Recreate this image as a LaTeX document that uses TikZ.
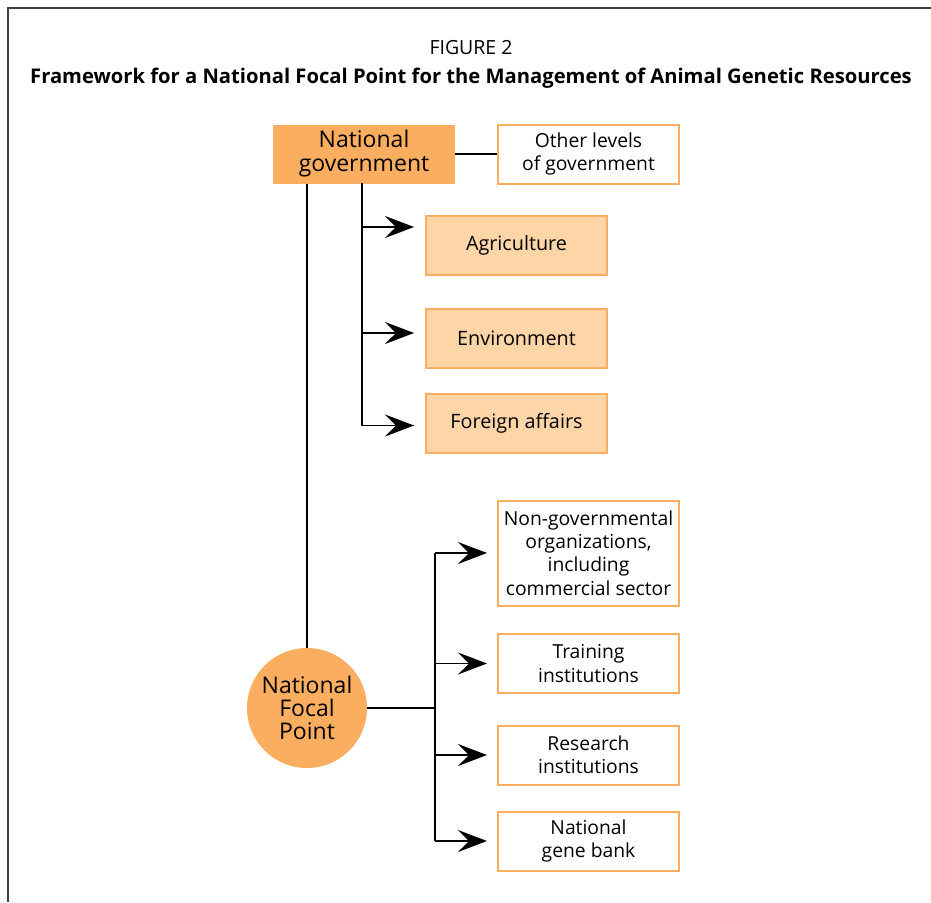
\documentclass[tikz,border=0pt]{standalone}
\usepackage{fontspec}
\setmainfont{Open Sans}
\usetikzlibrary{positioning,arrows.meta}

\definecolor{orangedark}{HTML}{FBAE5F}
\definecolor{orangelight}{HTML}{FDD5A6}

\begin{document}
\begin{tikzpicture}[
  x=1pt,y=-1pt,
  every node/.style={inner sep=0pt,align=center},
  govbox/.style={rectangle,fill=orangedark,minimum width=182pt,minimum height=59pt,font=\fontsize{23}{24}\selectfont},
  minbox/.style={rectangle,draw=orangedark,line width=2pt,fill=orangelight,minimum width=181pt,minimum height=59pt,font=\fontsize{19.8}{23}\selectfont},
  outbox/.style={rectangle,draw=orangedark,line width=2pt,fill=white,minimum width=181pt,minimum height=59pt,font=\fontsize{19.3}{23.3}\selectfont},
  focal/.style={circle,fill=orangedark,minimum size=120pt,font=\fontsize{23}{23}\selectfont},
  link/.style={line width=1.4pt},
  arrowlink/.style={line width=1.4pt,-{Stealth[length=29pt,width=22pt,inset=11pt]}},
]
\useasboundingbox (0,0) rectangle (931,902);
% frame
\draw[line width=2pt,black!75] (8,902) -- (8,8) -- (931,8);

% title
\node (fignum) at (471,48) {\fontsize{19.5}{20}\selectfont FIGURE 2};
\node (title) at (471,78) {\fontsize{20.2}{22}\selectfont\bfseries Framework for a National Focal Point for the Management of Animal Genetic Resources};

% government side
\node (natgov) [govbox] at (364,154) {National\\government};
\node (otherlev) [outbox] at (588.5,154) {Other levels\\of government};
\node (agri) [minbox] at (516.5,245) {Agriculture};
\node (envir) [minbox] at (516.5,338) {Environment};
\node (foreign) [minbox] at (516.5,423.5) {Foreign affairs};

% focal point side
\node (nfp) [focal] at (307,708) {National\\Focal\\Point};
\node (ngo) [outbox,minimum height=105pt] at (588.5,553) {Non-governmental\\organizations,\\including\\commercial sector};
\node (training) [outbox] at (588.5,663.5) {Training\\institutions};
\node (research) [outbox] at (588.5,755) {Research\\institutions};
\node (genebank) [outbox] at (588.5,841) {National\\gene bank};

\coordinate (govtrunk) at (362,183);
\coordinate (nfptrunk) at (435,708);
\coordinate (agritip) at ([xshift=-11pt,yshift=18pt]agri.west);
\coordinate (envirtip) at ([xshift=-11pt,yshift=5pt]envir.west);
\coordinate (foreigntip) at ([xshift=-11pt,yshift=-2pt]foreign.west);

\draw[link] (natgov.east) -- (otherlev.west);
\draw[link] (natgov.south -| nfp.north) -- (nfp.north);
\draw[link] (govtrunk) |- (foreigntip);
\draw[arrowlink] (govtrunk |- agritip) -- (agritip);
\draw[arrowlink] (govtrunk |- envirtip) -- (envirtip);
\draw[arrowlink] (govtrunk |- foreigntip) -- (foreigntip);

\draw[link] (nfp.east) -- (nfptrunk);
\draw[link] (nfptrunk |- ngo.west) -- (nfptrunk |- genebank.west);
\draw[arrowlink] (nfptrunk |- ngo.west) -- ([xshift=-10pt]ngo.west);
\draw[arrowlink] (nfptrunk |- training.west) -- ([xshift=-10pt]training.west);
\draw[arrowlink] (nfptrunk |- research.west) -- ([xshift=-10pt]research.west);
\draw[arrowlink] (nfptrunk |- genebank.west) -- ([xshift=-10pt]genebank.west);
\end{tikzpicture}
\end{document}
